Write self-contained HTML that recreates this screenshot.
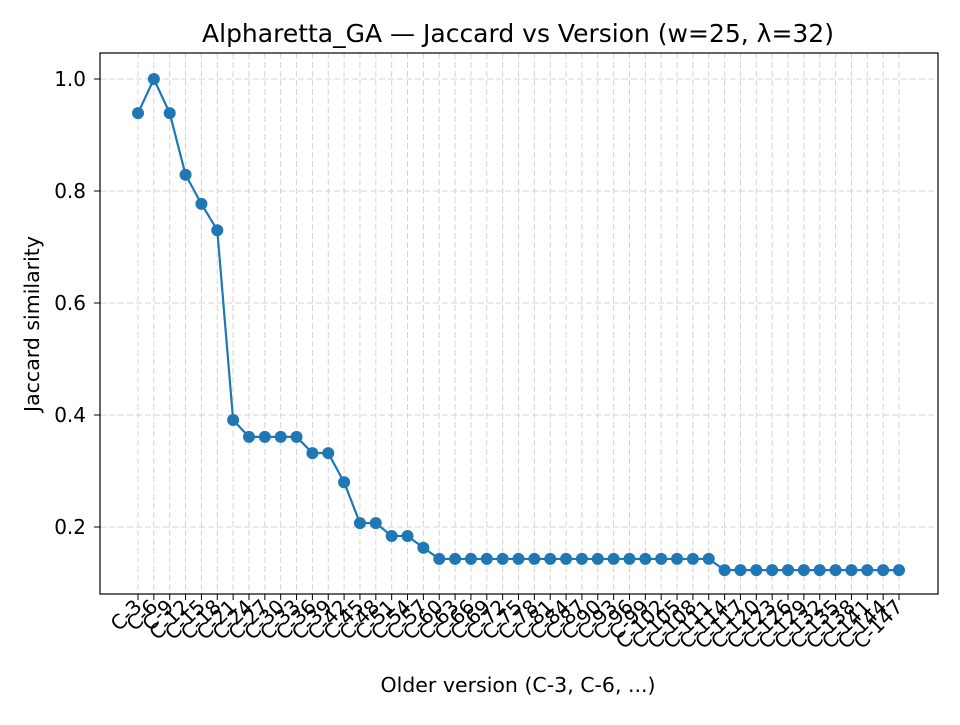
<!DOCTYPE html>
<html><head><meta charset="utf-8"><style>
body{margin:0;background:#fff}
svg text{font-family:"DejaVu Sans","Liberation Sans",sans-serif;fill:#000}
</style></head><body>
<svg id="chart" width="960" height="720">
<rect width="960" height="720" fill="#fff"/>
<g id="grid"></g>
<g id="axes"></g>
<g id="series"></g>
<rect x="100" y="53" width="838" height="541" fill="none" stroke="#000" stroke-width="1.2"/>
<text x="518" y="42" font-size="25" text-anchor="middle">Alpharetta_GA — Jaccard vs Version (w=25, λ=32)</text>
<text x="518" y="692" font-size="20.5" text-anchor="middle">Older version (C-3, C-6, ...)</text>
<text transform="translate(39,324) rotate(-90)" font-size="20.5" text-anchor="middle">Jaccard similarity</text>
</svg>
<script>
const categories = [];
for (let i = 1; i <= 49; i++) categories.push('C-' + (3*i));
const values = [0.939,1.0,0.939,0.829,0.777,0.730,0.391,0.361,0.361,0.361,0.361,0.332,0.332,0.280,0.207,0.207,0.184,0.184,0.163,
0.143,0.143,0.143,0.143,0.143,0.143,0.143,0.143,0.143,0.143,0.143,0.143,0.143,0.143,0.143,0.143,0.143,0.143,
0.123,0.123,0.123,0.123,0.123,0.123,0.123,0.123,0.123,0.123,0.123,0.123];
const yTicks = [0.2,0.4,0.6,0.8,1.0];
const yTickLabels = ['0.2','0.4','0.6','0.8','1.0'];

const NS='http://www.w3.org/2000/svg';
const x0=138,x1=899;
function xs(i){return x0+(x1-x0)*i/(categories.length-1);}
function ys(v){return 79+(1.0-v)*560;}
function mk(tag,attrs,parent){const e=document.createElementNS(NS,tag);for(const k in attrs)e.setAttribute(k,attrs[k]);parent.appendChild(e);return e;}
const grid=document.getElementById('grid'),axes=document.getElementById('axes'),series=document.getElementById('series');
categories.forEach((c,i)=>{
  const x=xs(i);
  const g=mk('line',{x1:x,x2:x,y1:53,y2:594,stroke:'#d4d4d4','stroke-dasharray':'6,3','stroke-width':1},grid);
  
  
  const t=mk('line',{x1:x,x2:x,y1:594,y2:600,stroke:'#000','stroke-width':1},axes);
  
  
  const l=mk('text',{transform:`translate(${x+5},${608}) rotate(-45)`,'font-size':20,'text-anchor':'end'},axes);
  l.textContent=c;
  
  
});
yTicks.forEach((v,i)=>{
  const y=ys(v);
  const g=mk('line',{x1:100,x2:938,y1:y,y2:y,stroke:'#d4d4d4','stroke-dasharray':'6,3','stroke-width':1},grid);
  
  
  const t=mk('line',{x1:94,x2:100,y1:y,y2:y,stroke:'#000','stroke-width':1},axes);
  
  
  const l=mk('text',{x:86,y:y+7,'font-size':20,'text-anchor':'end'},axes);
  l.textContent=yTickLabels[i];
  
  
});
const pts=values.map((v,i)=>xs(i)+','+ys(v)).join(' ');
const line=mk('polyline',{points:pts,fill:'none',stroke:'#1f77b4','stroke-width':2.2},series);


values.forEach((v,i)=>{
  const c=mk('circle',{cx:xs(i),cy:ys(v),r:6,fill:'#1f77b4'},series);
  
  
});
</script>
</body></html>
